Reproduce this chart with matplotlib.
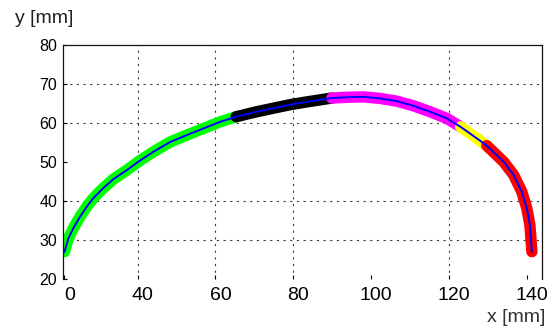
import numpy as np
import matplotlib
matplotlib.use("Agg")
import matplotlib.pyplot as plt
from matplotlib.transforms import ScaledTranslation

# ---- data ----
green_x = [0.0, 2.1, 4.8, 8.5, 12.1, 15.7, 21.2, 26.7, 34.0, 40.2, 44.0, 48.3,
           52.6, 56.9, 61.2, 65.3]
green_y = [27.0, 30.4, 33.0, 36.0, 38.5, 40.7, 43.3, 45.6, 47.9, 50.1, 52.6, 55.1,
           56.9, 58.6, 60.3, 61.6]
black_x = [65.3, 70.2, 74.9, 79.2, 83.4, 89.9]
black_y = [61.6, 62.8, 63.8, 64.7, 65.4, 66.4]
magenta_x = [89.9, 93.7, 98.0, 102.3, 106.6, 110.9, 115.1, 119.4, 123.0]
magenta_y = [66.4, 66.6, 66.7, 66.3, 65.6, 64.4, 62.9, 61.2, 59.0]
yellow_x = [123.0, 127.1, 129.7]
yellow_y = [59.0, 56.1, 54.2]
red_x = [129.7, 134.0, 136.6, 138.7, 140.0, 140.8, 141.3]
red_y = [54.2, 50.1, 46.7, 42.4, 38.1, 33.8, 27.0]

x_ticks = [0, 40, 60, 80, 100, 120, 140]
y_ticks = [20, 30, 40, 50, 60, 70, 80]
grid_x = [40, 60, 80, 120]
grid_y = [30, 40, 60, 70]

# axis scale: the part left of 40 is compressed in the reference
K = 0.47
def fwd(x):
    x = np.asarray(x, dtype=float)
    return np.where(x < 40, 40 - (40 - x) * K, x)
def inv(u):
    u = np.asarray(u, dtype=float)
    return np.where(u < 40, 40 - (40 - u) / K, u)

plt.rcParams['font.family'] = ['Liberation Sans', 'DejaVu Sans']

fig = plt.figure(figsize=(5.56, 3.29), dpi=100)
ax = fig.add_axes([63.3 / 556, 1 - 279 / 329, (542 - 63.3) / 556, (279 - 45) / 329])
ax.set_xscale('function', functions=(fwd, inv))
ax.set_xlim(-0.65, 143.9)
ax.set_ylim(20, 80)

for gx in grid_x:
    ax.axvline(gx, color='#404040', lw=0.8, linestyle=(0, (2, 4)), zorder=0)
for gy in grid_y:
    ax.axhline(gy, color='#404040', lw=0.8, linestyle=(0, (2, 4)), zorder=0)

seg_lw = 8.2
for xs, ys, c in [(green_x, green_y, '#00ff00'),
                  (black_x, black_y, '#000000'),
                  (magenta_x, magenta_y, '#ff00ff'),
                  (yellow_x, yellow_y, '#ffff00'),
                  (red_x, red_y, '#ff0000')]:
    ax.plot(xs, ys, color=c, lw=seg_lw, solid_capstyle='round',
            solid_joinstyle='round', zorder=2)

all_x = green_x + black_x[1:] + magenta_x[1:] + yellow_x[1:] + red_x[1:]
all_y = green_y + black_y[1:] + magenta_y[1:] + yellow_y[1:] + red_y[1:]
ax.plot(all_x, all_y, color='#0000ff', lw=1.4, zorder=3,
        solid_joinstyle='round')

ax.set_xticks(x_ticks)
ax.set_xticklabels([str(v) for v in x_ticks])
ax.set_yticks(y_ticks)
ax.set_yticklabels([str(v) for v in y_ticks])
ax.tick_params(axis='x', direction='in', length=3, width=0.8, pad=6,
               labelsize=14, colors='#000000')
ax.tick_params(axis='y', direction='in', length=3, width=0.8, pad=4.5,
               labelsize=11.5, colors='#000000')
off = ScaledTranslation(5 / 100, 0, fig.dpi_scale_trans)
for lab in ax.get_xticklabels():
    lab.set_transform(lab.get_transform() + off)

ax.spines['bottom'].set_visible(False)
for s in ['left', 'top', 'right']:
    ax.spines[s].set_linewidth(0.9)
    ax.spines[s].set_color('#111111')

fig.text(15 / 556, 1 - 23.3 / 329, 'y [mm]', fontsize=14, color='#222222',
         ha='left', va='baseline')
fig.text(545 / 556, 1 - 321.7 / 329, 'x [mm]', fontsize=14, color='#333333',
         ha='right', va='baseline')

fig.savefig('out.png', dpi=100)
